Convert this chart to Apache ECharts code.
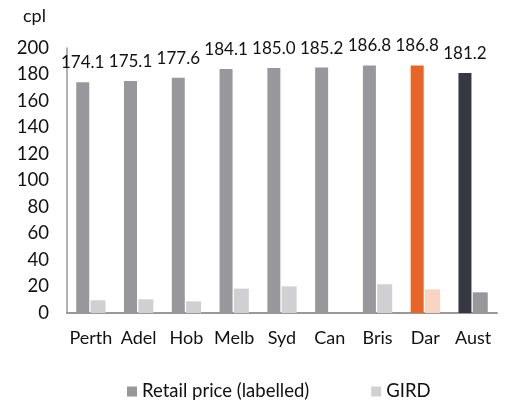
<!DOCTYPE html>
<html><head><meta charset="utf-8">
<script src="https://cdn.jsdelivr.net/npm/echarts@6/dist/echarts.min.js"></script>
<style>html,body{margin:0;padding:0;background:#fff}#c{width:510px;height:401px}</style>
</head><body><div id="c"></div>
<script>
const categories = ['Perth','Adel','Hob','Melb','Syd','Can','Bris','Dar','Aust'];
const retailPrice = [174.1,175.1,177.6,184.1,185.0,185.2,186.8,186.8,181.2];
const gird = [9.6,10.3,8.8,18.4,20.1,0,21.7,17.9,15.6];
const yTicks = {min:0, max:200, interval:20};

const retailColors = {Dar:'#e8652a', Aust:'#363841'};
const girdColors = {Dar:'#f8d5c3', Aust:'#98989c'};
const font = 'Lato, "Noto Sans", sans-serif';

const chart = echarts.init(document.getElementById('c'), null, {renderer:'canvas'});
chart.setOption({
  animation:false,
  textStyle:{fontFamily:font},
  grid:{left:67, right:13, top:48, bottom:88},
  legend:{
    top:377, left:122, itemGap:62, itemWidth:10, itemHeight:10,
    icon:'rect', textStyle:{fontSize:18.5, color:'#111', fontFamily:font},
    data:['Retail price (labelled)','GIRD']
  },
  graphic:[{type:'text', left:23, top:7, style:{text:'cpl', font:'18px '+font, fill:'#111'}}],
  xAxis:{
    type:'category', data:categories,
    axisLine:{show:true, lineStyle:{color:'#999', width:2}},
    axisTick:{show:false},
    axisLabel:{interval:0, fontSize:18, color:'#111', margin:16, fontFamily:font}
  },
  yAxis:{
    type:'value', min:yTicks.min, max:yTicks.max, interval:yTicks.interval,
    axisLine:{show:true, lineStyle:{color:'#999', width:1.5}},
    axisTick:{show:false},
    splitLine:{show:false},
    axisLabel:{fontSize:18.5, color:'#111', margin:18, fontFamily:font}
  },
  series:[
    {name:'Retail price (labelled)', type:'bar', barWidth:13, barGap:'10%',
     itemStyle:{color:'#98989c'},
     data:retailPrice.map((v,i)=>({value:v, itemStyle: retailColors[categories[i]]?{color:retailColors[categories[i]]}:undefined})),
     label:{show:true, position:'top', distance:11, fontSize:17, color:'#111', fontFamily:font,
            formatter:p=>p.value.toFixed(1)}},
    {name:'GIRD', type:'bar', barWidth:15,
     itemStyle:{color:'#d0d0d3'},
     data:gird.map((v,i)=>({value:v, itemStyle: girdColors[categories[i]]?{color:girdColors[categories[i]]}:undefined}))}
  ]
});
</script></body></html>
